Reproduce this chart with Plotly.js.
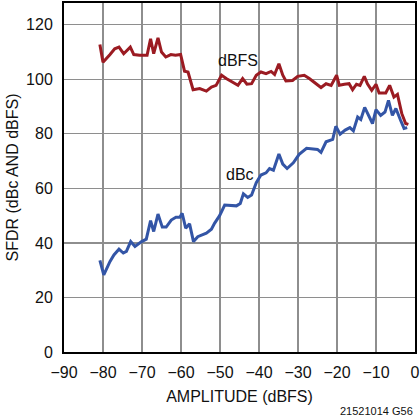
<!DOCTYPE html>
<html>
<head>
<meta charset="utf-8">
<script src="https://cdn.plot.ly/plotly-3.0.1.min.js"></script>
<style>
html,body{margin:0;padding:0;background:#fff;}
#chart{width:420px;height:419px;}
</style>
</head>
<body>
<div id="chart"></div>
<script>
// dBFS curve (red)
var dbfsX = [-80.8,-80.0,-78.2,-77.0,-75.9,-74.7,-73.0,-72.1,-70.6,-68.7,-67.8,-67.0,-65.9,-65.0,-63.9,-62.6,-61.4,-60.1,-59.1,-58.2,-56.9,-55.2,-53.5,-52.2,-51.0,-49.6,-48.4,-46.7,-45.4,-44.2,-43.1,-41.9,-40.7,-39.5,-38.2,-36.9,-36.0,-34.9,-33.9,-33.1,-31.4,-30.1,-28.4,-27.1,-25.4,-24.1,-22.8,-21.5,-20.1,-19.4,-18.1,-16.9,-16.0,-15.0,-14.1,-13.0,-12.2,-11.1,-10.0,-9.2,-7.5,-6.5,-5.4,-4.5,-3.4,-2.4,-1.7];
var dbfsY = [112.8,106.3,109.1,111.2,111.8,109.4,111.8,109.1,108.8,108.8,114.9,109.4,115.2,110.0,108.2,109.1,108.8,109.1,103.0,102.7,96.2,96.6,95.7,97.2,97.8,101.5,100.3,99.0,97.8,100.3,98.2,98.4,101.5,102.7,102.1,102.9,101.8,105.7,101.5,99.4,99.6,101.1,101.5,100.3,98.4,97.0,98.4,97.8,101.5,97.8,98.2,98.4,96.2,98.2,97.8,101.1,98.4,96.0,98.2,95.0,95.0,97.8,93.5,94.5,87.5,83.8,83.5];
// dBc curve (blue)
var dbcX = [-80.8,-79.8,-78.2,-77.2,-75.9,-74.8,-74.0,-72.9,-71.8,-70.1,-68.9,-67.8,-67.0,-65.9,-64.8,-63.8,-62.5,-61.3,-60.3,-59.7,-58.8,-57.8,-56.8,-55.7,-53.5,-52.2,-51.4,-50.1,-48.8,-45.8,-44.8,-44.0,-42.9,-41.9,-40.7,-39.5,-38.2,-37.3,-36.3,-34.9,-33.9,-32.8,-31.2,-29.7,-27.8,-25.0,-24.1,-22.8,-21.1,-20.3,-19.2,-17.9,-16.7,-15.8,-14.7,-13.9,-12.9,-11.9,-10.9,-10.0,-8.8,-7.7,-6.8,-5.8,-4.9,-3.7,-2.8,-2.0];
var dbcY = [33.6,28.3,33.2,35.6,37.7,36.3,36.9,40.5,38.7,40.5,41.4,48.2,44.2,50.6,45.8,45.8,48.4,49.4,49.4,50.9,45.4,47.0,40.5,42.3,43.6,45.0,47.2,50.0,53.9,53.6,54.5,58.0,56.7,57.6,62.1,64.9,65.7,67.3,66.7,72.6,68.9,67.3,69.4,72.5,74.7,74.3,73.2,77.1,78.0,82.8,79.9,81.4,82.3,81.1,86.2,85.3,89.7,86.8,83.8,88.9,86.8,88.0,92.3,86.8,89.3,85.0,82.0,82.3];
var xTicks = [-90,-80,-70,-60,-50,-40,-30,-20,-10,0];
var yTicks = [0,20,40,60,80,100,120];
var curveLabels = ["dBFS","dBc"];
var labelX = [-45.4,-45.0];
var labelY = [107,65];

var FONT = "Liberation Sans, Arial, sans-serif";
var traces = [
  {x: dbfsX, y: dbfsY, type:"scatter", mode:"lines", line:{color:"#9b1b22", width:3}, hoverinfo:"skip"},
  {x: dbcX, y: dbcY, type:"scatter", mode:"lines", line:{color:"#3355a6", width:3}, hoverinfo:"skip"}
];
var layout = {
  width:420, height:419,
  margin:{l:64, r:5, t:3, b:67},
  paper_bgcolor:"#fff", plot_bgcolor:"#fff",
  showlegend:false,
  font:{family:FONT, size:16, color:"#111"},
  xaxis:{
    range:[-90,0], tickvals:xTicks, ticktext:xTicks.map(function(v){return v<0?"\u2212"+Math.abs(v):String(v);}),
    showgrid:true, gridcolor:"#8e8e8e", gridwidth:1.2,
    showline:true, linecolor:"#000", linewidth:2, mirror:true,
    ticks:"", zeroline:false, ticklabelstandoff:5,
    title:{text:"AMPLITUDE (dBFS)", font:{size:16, family:FONT}, standoff:11}
  },
  yaxis:{
    range:[0,128], tickvals:yTicks,
    showgrid:true, gridcolor:"#8e8e8e", gridwidth:1.2,
    showline:true, linecolor:"#000", linewidth:2, mirror:true,
    ticks:"", zeroline:false, ticklabelstandoff:6,
    title:{text:"SFDR (dBc AND dBFS)", font:{size:16, family:FONT}, standoff:3}
  },
  annotations:[
    {x:labelX[0], y:labelY[0], text:curveLabels[0], showarrow:false, font:{size:16, family:FONT, color:"#111"}},
    {x:labelX[1], y:labelY[1], text:curveLabels[1], showarrow:false, font:{size:16, family:FONT, color:"#111"}},
    {xref:"paper", yref:"paper", x:1, y:0, xanchor:"right", yanchor:"top", yshift:-51, text:"21521014 G56", showarrow:false, font:{size:11, family:"Liberation Sans Narrow, Arial Narrow, sans-serif", color:"#111"}}
  ]
};
Plotly.newPlot("chart", traces, layout, {staticPlot:true, displayModeBar:false});
</script>
</body>
</html>
